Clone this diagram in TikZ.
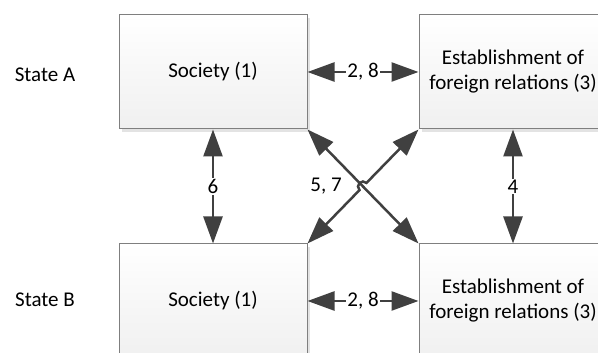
\documentclass[tikz,border=0pt]{standalone}
\usepackage{fontspec}
\setmainfont{Carlito}
\usetikzlibrary{arrows.meta,shadows,calc}
\definecolor{edgegray}{HTML}{7F7F7F}
\definecolor{arrowgray}{HTML}{404040}
\begin{document}
\begin{tikzpicture}[x=1pt,y=1pt,
  txt/.style={font=\fontsize{21}{25}\selectfont},
  box/.style={txt, draw=edgegray, line width=1pt, minimum width=188pt,
    minimum height=114pt, inner sep=0pt, align=center,
    top color=white, bottom color=gray!12,
    general shadow={fill=gray!22, shadow xshift=3pt, shadow yshift=-3pt}},
  link/.style={draw=arrowgray, line width=2.5pt,
    {Triangle[length=27pt,width=19pt]}-{Triangle[length=27pt,width=19pt]}},
  tag/.style={txt, fill=white, inner sep=1pt}]
\useasboundingbox (0,0) rectangle (598,353);
\clip (0,0) rectangle (598,353);

% row labels
\node[txt] (la) at (45,278) {State A};
\node[txt] (lb) at (45,53) {State B};

% the four boxes
\node[box] (s1) at (213,281) {Society (1)};
\node[box] (e1) at (513,281) {Establishment of\\foreign relations (3)};
\node[box] (s2) at (213,52) {Society (1)};
\node[box] (e2) at (513,52) {Establishment of\\foreign relations (3)};

% horizontal links
\draw[link] (s1.east) -- node[tag] {2, 8} (e1.west);
\draw[link] (s2.east) -- node[tag] {2, 8} (e2.west);

% vertical links
\draw[link] (s1.south) -- node[tag] {6} (s2.north);
\draw[link] (e1.south) -- node[tag] {4} (e2.north);

% crossing diagonals, the second one jumps over the first
\coordinate (x) at ($(s1.south east)!0.5!(e2.north west)$);
\draw[link] (s1.south east) -- (e2.north west);
\draw[link] let \p1=($(e1.south west)-(s2.north east)$),
  \n1={atan2(\y1,\x1)} in
  (s2.north east) -- ($(x)!5pt!(s2.north east)$)
  arc[start angle=\n1+180, end angle=\n1, radius=5pt]
  -- (e1.south west);
\node[txt] (d57) at ($(x)+(-37,0)$) {5, 7};
\end{tikzpicture}
\end{document}
